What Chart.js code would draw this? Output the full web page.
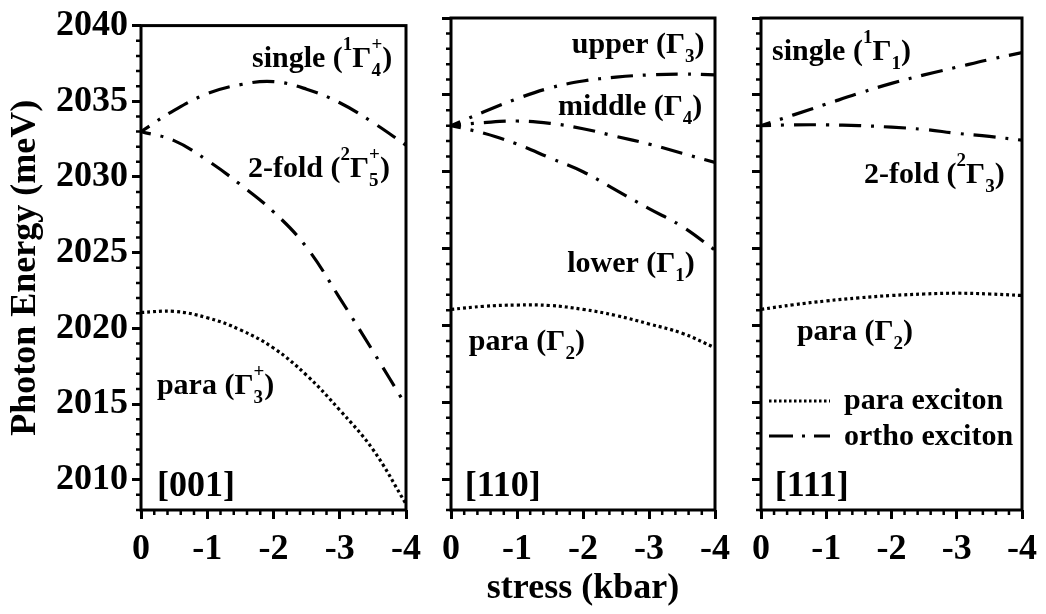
<!DOCTYPE html>
<html>
<head>
<meta charset="utf-8">
<script src="https://cdn.jsdelivr.net/npm/chart.js@4.4.1/dist/chart.umd.min.js"></script>
<style>
  html, body { margin: 0; padding: 0; background: #fff; }
  #wrap { position: relative; width: 1046px; height: 614px; overflow: hidden; }
  #wrap canvas { position: absolute; top: 0; }
</style>
</head>
<body>
<div id="wrap">
  <canvas id="c001" width="430" height="614" style="left:0px"></canvas>
  <canvas id="c110" width="310" height="614" style="left:430px"></canvas>
  <canvas id="c111" width="306" height="614" style="left:740px"></canvas>
</div>
<script>
// stress in kbar (compressive, plotted 0 -> -4)
const stress = [0, -0.5, -1, -1.5, -2, -2.5, -3, -3.5, -4];

// [001] stress, photon energy in meV
const single001 = [2033.0, 2034.4, 2035.5, 2036.1, 2036.3, 2035.8, 2034.9, 2033.6, 2032.1];
const twofold001 = [2033.0, 2032.4, 2031.1, 2029.5, 2027.7, 2025.35, 2022.0, 2018.5, 2014.9];
const para001 = [2021.05, 2021.12, 2020.7, 2019.9, 2018.7, 2016.9, 2014.6, 2012.0, 2008.4];

// [110] stress
const upper110 = [2033.0, 2033.9, 2034.75, 2035.45, 2035.9, 2036.15, 2036.3, 2036.35, 2036.3];
const middle110 = [2033.0, 2033.2, 2033.3, 2033.15, 2032.8, 2032.3, 2031.8, 2031.2, 2030.6];
const lower110 = [2033.0, 2032.5, 2031.8, 2030.9, 2030.0, 2028.8, 2027.6, 2026.45, 2024.9];
const para110 = [2021.05, 2021.25, 2021.33, 2021.3, 2021.05, 2020.65, 2020.1, 2019.5, 2018.55];

// [111] stress
const single111 = [2033.0, 2033.7, 2034.4, 2035.1, 2035.75, 2036.3, 2036.8, 2037.3, 2037.75];
const twofold111 = [2033.0, 2033.05, 2033.05, 2033.0, 2032.9, 2032.75, 2032.5, 2032.3, 2032.05];
const para111 = [2021.05, 2021.35, 2021.6, 2021.8, 2021.95, 2022.05, 2022.1, 2022.05, 2021.95];

const stressTicks = [0, -1, -2, -3, -4];
const energyTicks = [2010, 2015, 2020, 2025, 2030, 2035, 2040];

const FONT = "'Liberation Serif', 'Times New Roman', serif";
const ORTHO_DASH = [22, 10, 3, 10];
const PARA_DASH = [3, 3];

Chart.defaults.font.family = FONT;
Chart.defaults.color = "#000";

function ortho(values) {
    return {
        data: stress.map((s, i) => ({ x: s, y: values[i] })),
        borderColor: "#000",
        borderWidth: 3.2,
        borderDash: ORTHO_DASH,
        borderDashOffset: 12,
        pointRadius: 0,
        tension: 0.4,
        fill: false,
    };
}

function para(values) {
    return {
        data: stress.map((s, i) => ({ x: s, y: values[i] })),
        borderColor: "#000",
        borderWidth: 3.2,
        borderDash: PARA_DASH,
        pointRadius: 0,
        tension: 0.4,
        fill: false,
    };
}

// text with sub/superscripts: plain strings or {sup, sub} pieces
function drawRich(ctx, parts, x, y, size) {
    const small = Math.round(size * 0.63);
    let cx = x;
    ctx.textBaseline = "alphabetic";
    ctx.textAlign = "left";
    for (const p of parts) {
        if (typeof p === "string") {
            ctx.font = `bold ${size}px ${FONT}`;
            ctx.fillText(p, cx, y);
            cx += ctx.measureText(p).width;
        } else {
            ctx.font = `bold ${small}px ${FONT}`;
            let w = 0;
            if (p.sup) {
                ctx.fillText(p.sup, cx, y - 17);
                w = Math.max(w, ctx.measureText(p.sup).width);
            }
            if (p.sub) {
                ctx.fillText(p.sub, cx, y + 9);
                w = Math.max(w, ctx.measureText(p.sub).width);
            }
            cx += w;
        }
    }
}

// minor ticks, box frame, curve labels and (optionally) the legend
function decor(tags, withLegend) {
    return {
        id: "decor",
        afterDraw(chart) {
            const { ctx, chartArea: a } = chart;
            const x = chart.scales.x, y = chart.scales.y;
            ctx.save();
            ctx.strokeStyle = "#000";
            ctx.fillStyle = "#000";
            ctx.lineWidth = 2.5;
            ctx.beginPath();
            for (let v = 2008; v <= 2040; v++) {
                if (v % 5 === 0) continue;
                const py = y.getPixelForValue(v);
                ctx.moveTo(a.left, py);
                ctx.lineTo(a.left - 5, py);
            }
            for (let k = 1; k < 20; k++) {
                if (k % 5 === 0) continue;
                const px = x.getPixelForValue(-k * 0.2);
                ctx.moveTo(px, a.bottom);
                ctx.lineTo(px, a.bottom + 5);
            }
            ctx.stroke();

            ctx.lineWidth = 3;
            ctx.strokeRect(a.left, a.top, a.right - a.left, a.bottom - a.top);

            for (const t of tags) {
                drawRich(ctx, t.parts, x.getPixelForValue(t.x), y.getPixelForValue(t.y), t.size || 30);
            }

            if (withLegend) {
                const lx = a.left + 8;
                ctx.lineWidth = 3;
                ctx.setLineDash([2.5, 2.5]);
                ctx.beginPath();
                ctx.moveTo(lx, 401);
                ctx.lineTo(lx + 61, 401);
                ctx.stroke();
                ctx.setLineDash([24, 9, 3, 9]);
                ctx.beginPath();
                ctx.moveTo(lx, 436);
                ctx.lineTo(lx + 61, 436);
                ctx.stroke();
                ctx.setLineDash([]);
                drawRich(ctx, ["para exciton"], lx + 75, 409, 30);
                drawRich(ctx, ["ortho exciton"], lx + 75, 445, 30);
            }
            ctx.restore();
        },
    };
}

function scales(first, withXTitle) {
    const tickFont = { family: FONT, size: 36, weight: "bold" };
    return {
        x: {
            type: "linear",
            min: -4,
            max: 0,
            reverse: true,
            afterBuildTicks: (s) => { s.ticks = stressTicks.map((v) => ({ value: v })); },
            afterFit: (s) => { s.height = 104; },
            grid: { drawOnChartArea: false, tickLength: 9, tickWidth: 3, tickColor: "#000" },
            border: { display: false },
            ticks: {
                font: tickFont, color: "#000", padding: 9, maxRotation: 0, autoSkip: false,
                callback: (v) => String(v),
            },
            title: {
                display: withXTitle,
                text: "stress (kbar)",
                font: tickFont,
                color: "#000",
                padding: { top: 0, bottom: 4 },
            },
        },
        y: {
            type: "linear",
            min: 2008,
            max: 2040,
            afterBuildTicks: (s) => { s.ticks = energyTicks.map((v) => ({ value: v })); },
            afterFit: (s) => { s.width = first ? 141 : 21; },
            grid: { drawOnChartArea: false, tickLength: 9, tickWidth: 3, tickColor: "#000" },
            border: { display: false },
            ticks: {
                display: first, font: tickFont, color: "#000", padding: 4,
                callback: (v) => String(v),
            },
            title: {
                display: first,
                text: "Photon Energy (meV)",
                font: tickFont,
                color: "#000",
                padding: { top: 4, bottom: 0 },
            },
        },
    };
}

function makeChart(id, datasets, tags, opts) {
    new Chart(document.getElementById(id), {
        type: "line",
        data: { datasets },
        options: {
            responsive: false,
            animation: false,
            events: [],
            layout: { padding: { left: 0, right: opts.right, top: 18, bottom: 0 } },
            plugins: { legend: { display: false }, tooltip: { enabled: false } },
            scales: scales(opts.first, opts.xTitle),
        },
        plugins: [decor(tags, opts.legend)],
    });
}

makeChart("c001",
    [ortho(single001), ortho(twofold001), para(para001)],
    [
        { x: -1.675, y: 2037.27, parts: ["single (", { sup: "1" }, "Γ", { sub: "4", sup: "+" }, ")"] },
        { x: -1.615, y: 2029.98, parts: ["2-fold (", { sup: "2" }, "Γ", { sub: "5", sup: "+" }, ")"] },
        { x: -0.24, y: 2015.67, parts: ["para (Γ", { sub: "3", sup: "+" }, ")"] },
        { x: -0.24, y: 2008.95, parts: ["[001]"], size: 36 },
    ],
    { first: true, xTitle: false, legend: false, right: 24 });

makeChart("c110",
    [ortho(upper110), ortho(middle110), ortho(lower110), para(para110)],
    [
        { x: -1.83, y: 2037.72, parts: ["upper (Γ", { sub: "3" }, ")"] },
        { x: -1.62, y: 2033.69, parts: ["middle (Γ", { sub: "4" }, ")"] },
        { x: -1.76, y: 2023.48, parts: ["lower (Γ", { sub: "1" }, ")"] },
        { x: -0.27, y: 2018.41, parts: ["para (Γ", { sub: "2" }, ")"] },
        { x: -0.21, y: 2008.9, parts: ["[110]"], size: 36 },
    ],
    { first: false, xTitle: true, legend: false, right: 25 });

makeChart("c111",
    [ortho(single111), ortho(twofold111), para(para111)],
    [
        { x: -0.17, y: 2037.27, parts: ["single (", { sup: "1" }, "Γ", { sub: "1" }, ")"] },
        { x: -1.58, y: 2029.27, parts: ["2-fold (", { sup: "2" }, "Γ", { sub: "3" }, ")"] },
        { x: -0.55, y: 2019.06, parts: ["para (Γ", { sub: "2" }, ")"] },
        { x: -0.21, y: 2008.9, parts: ["[111]"], size: 36 },
    ],
    { first: false, xTitle: false, legend: true, right: 21 });
</script>
</body>
</html>
